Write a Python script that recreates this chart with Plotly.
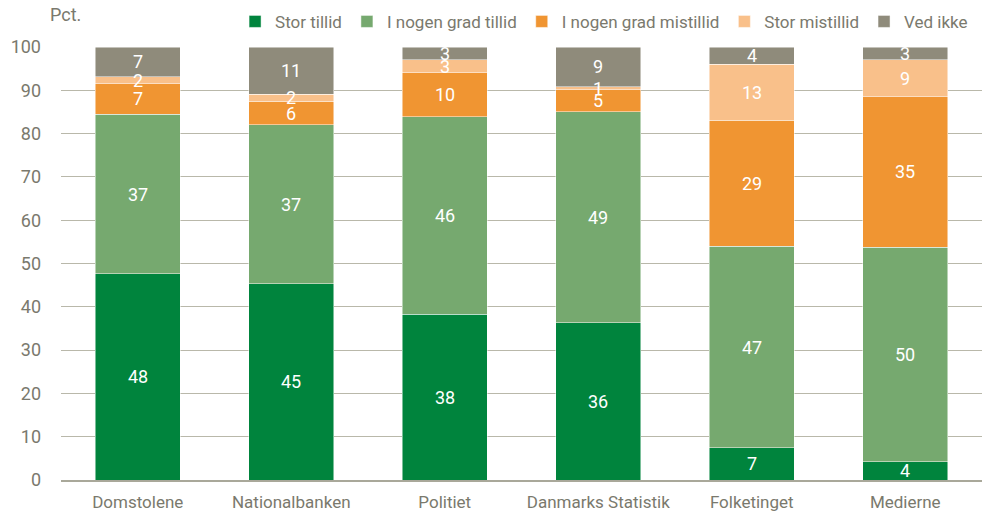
import plotly.graph_objects as go

categories = ["Domstolene", "Nationalbanken", "Politiet", "Danmarks Statistik", "Folketinget", "Medierne"]
series_names = ["Stor tillid", "I nogen grad tillid", "I nogen grad mistillid", "Stor mistillid", "Ved ikke"]
stor_tillid = [47.6, 45.3, 38.3, 36.3, 7.4, 4.2]
nogen_tillid = [36.9, 36.7, 45.6, 48.7, 46.6, 49.6]
nogen_mistillid = [7.0, 5.5, 10.2, 5.1, 29.1, 34.7]
stor_mistillid = [1.6, 1.6, 3.0, 0.7, 12.9, 8.6]
ved_ikke = [6.9, 10.9, 2.9, 9.2, 4.0, 2.9]
y_ticks = [0, 10, 20, 30, 40, 50, 60, 70, 80, 90, 100]

colors = ["#00843D", "#76A96F", "#F09532", "#F9C08A", "#8F8B7B"]
FONT = "Roboto, Liberation Sans, sans-serif"
TXT = "#7A796D"

all_series = [stor_tillid, nogen_tillid, nogen_mistillid, stor_mistillid, ved_ikke]

fig = go.Figure()
for name, vals, col in zip(series_names, all_series, colors):
    fig.add_trace(go.Bar(
        name=name, x=categories, y=vals,
        marker=dict(color=col, line=dict(color="rgba(255,255,255,0.6)", width=0.8)),
    ))

# value labels, centred in each segment (overflow allowed as in the original)
annotations = []
base = [0.0] * len(categories)
for vals in all_series:
    for i, (cat, v) in enumerate(zip(categories, vals)):
        annotations.append(dict(x=cat, y=base[i] + v / 2, xref="x", yref="y",
                                text=f"{v:.0f}", showarrow=False,
                                xanchor="center", yanchor="middle",
                                font=dict(size=18, color="white", family=FONT)))
        base[i] += v

annotations.append(dict(text="Pct.", xref="paper", yref="paper", x=0.005, y=1.074,
                        xanchor="center", yanchor="middle", showarrow=False,
                        font=dict(size=18, color=TXT, family=FONT)))

fig.update_layout(
    barmode="stack", bargap=0.446,
    width=987, height=515,
    margin=dict(l=61, r=5, t=47, b=35, autoexpand=False),
    paper_bgcolor="white", plot_bgcolor="white",
    font=dict(family=FONT, size=18, color=TXT),
    legend=dict(orientation="h", x=0.189, xanchor="left", y=1.058, yanchor="middle",
                font=dict(size=17, color=TXT), traceorder="normal",
                itemwidth=30, bgcolor="rgba(0,0,0,0)"),
    xaxis=dict(showline=True, linecolor="#A9A89A", linewidth=1.5, ticks="",
               ticklabelstandoff=6,
               tickfont=dict(size=17, color=TXT)),
    yaxis=dict(range=[0, 100], tickvals=y_ticks, showgrid=True, gridcolor="#B9B8AA",
               gridwidth=1.2, zeroline=False, ticks="", ticklabelstandoff=19,
               tickfont=dict(size=18, color=TXT)),
    annotations=annotations,
)

fig.write_html("out.html", config={"displayModeBar": False},
               post_script="document.body.style.margin='0';document.body.style.padding='0';")
